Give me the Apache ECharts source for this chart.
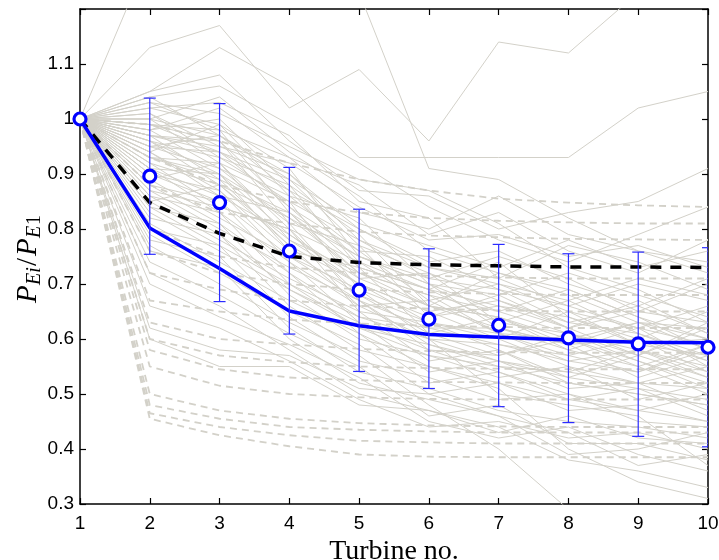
<!DOCTYPE html>
<html>
<head>
<meta charset="utf-8">
<script src="https://cdn.jsdelivr.net/npm/echarts@6/dist/echarts.min.js"></script>
<style>
  html, body { margin: 0; padding: 0; background: #fff; }
  #chart { width: 719px; height: 560px; }
</style>
</head>
<body>
<div id="chart"></div>
<script>
// Turbine positions along the row
const turbines = [1, 2, 3, 4, 5, 6, 7, 8, 9, 10];

// Mean normalised power with +/- one standard deviation
const meanRatio = [1.000, 0.896, 0.848, 0.760, 0.689, 0.636, 0.625, 0.602, 0.591, 0.585];
const errUpper  = [1.000, 1.038, 1.028, 0.912, 0.836, 0.764, 0.772, 0.755, 0.758, 0.766];
const errLower  = [1.000, 0.754, 0.668, 0.609, 0.541, 0.510, 0.477, 0.448, 0.423, 0.404];

// Model curves
const modelSolid  = [1.000, 0.802, 0.728, 0.651, 0.624, 0.608, 0.603, 0.598, 0.594, 0.593];
const modelDashed = [1.000, 0.848, 0.792, 0.750, 0.739, 0.735, 0.733, 0.731, 0.731, 0.730];

// Individual measured cases (thin solid grey)
const caseRuns = [
  [1, 1.30, 1.40, 1.38, 1.23, 0.91, 0.89, 0.82, 0.76, 0.72],
  [1, 1.13, 1.17, 1.02, 1.09, 0.96, 1.14, 1.12, 1.23, 1.25],
  [1, 1.05, 1.13, 1.06, 0.93, 0.93, 0.93, 0.93, 1.02, 1.05],
  [1, 1.05, 1.08, 0.96, 0.87, 0.86, 0.80, 0.83, 0.85, 0.91],
  [1, 1.04, 1.06, 0.99, 0.92, 0.84, 0.78, 0.74, 0.79, 0.84],
  [1, 1.03, 0.98, 0.93, 0.88, 0.79, 0.83, 0.76, 0.72, 0.78],
  [1, 1.02, 1.03, 0.97, 0.85, 0.82, 0.71, 0.77, 0.74, 0.69],
  [1, 1.01, 0.95, 0.90, 0.80, 0.74, 0.76, 0.70, 0.66, 0.71],
  [1, 1.00, 0.92, 0.86, 0.82, 0.70, 0.68, 0.72, 0.68, 0.64],
  [1, 0.99, 0.96, 0.84, 0.76, 0.75, 0.69, 0.66, 0.70, 0.67],
  [1, 0.98, 1.00, 0.88, 0.79, 0.66, 0.72, 0.68, 0.63, 0.62],
  [1, 0.97, 0.94, 0.87, 0.74, 0.69, 0.74, 0.64, 0.60, 0.65],
  [1, 0.96, 0.88, 0.82, 0.72, 0.68, 0.65, 0.69, 0.64, 0.58],
  [1, 0.95, 0.91, 0.81, 0.77, 0.64, 0.66, 0.62, 0.67, 0.61],
  [1, 0.94, 0.86, 0.79, 0.71, 0.72, 0.63, 0.61, 0.57, 0.63],
  [1, 0.93, 0.89, 0.77, 0.70, 0.65, 0.67, 0.63, 0.61, 0.56],
  [1, 0.92, 0.84, 0.80, 0.68, 0.63, 0.60, 0.65, 0.59, 0.60],
  [1, 0.91, 0.90, 0.76, 0.73, 0.61, 0.64, 0.58, 0.62, 0.55],
  [1, 0.90, 0.87, 0.74, 0.66, 0.67, 0.61, 0.60, 0.55, 0.59],
  [1, 0.89, 0.82, 0.75, 0.69, 0.60, 0.59, 0.56, 0.58, 0.53],
  [1, 0.88, 0.85, 0.72, 0.64, 0.62, 0.62, 0.59, 0.53, 0.57],
  [1, 0.87, 0.80, 0.73, 0.67, 0.58, 0.57, 0.61, 0.56, 0.51],
  [1, 0.86, 0.83, 0.70, 0.62, 0.59, 0.55, 0.54, 0.58, 0.54],
  [1, 0.85, 0.78, 0.71, 0.65, 0.56, 0.58, 0.53, 0.51, 0.49],
  [1, 0.84, 0.81, 0.68, 0.60, 0.57, 0.53, 0.55, 0.49, 0.52],
  [1, 0.83, 0.76, 0.69, 0.63, 0.54, 0.56, 0.51, 0.52, 0.47],
  [1, 0.82, 0.79, 0.66, 0.58, 0.55, 0.51, 0.40, 0.34, 0.31],
  [1, 0.81, 0.74, 0.67, 0.61, 0.52, 0.54, 0.49, 0.47, 0.50],
  [1, 0.80, 0.77, 0.64, 0.56, 0.53, 0.49, 0.50, 0.45, 0.44],
  [1, 0.79, 0.72, 0.65, 0.59, 0.50, 0.52, 0.47, 0.48, 0.45],
  [1, 0.78, 0.75, 0.62, 0.54, 0.51, 0.47, 0.45, 0.44, 0.42],
  [1, 0.77, 0.70, 0.63, 0.57, 0.48, 0.40, 0.29, 0.25, 0.22],
  [1, 0.76, 0.73, 0.60, 0.52, 0.49, 0.46, 0.43, 0.37, 0.39],
  [1, 0.74, 0.68, 0.61, 0.55, 0.46, 0.48, 0.41, 0.41, 0.38],
  [1, 0.72, 0.66, 0.58, 0.50, 0.47, 0.44, 0.38, 0.36, 0.33],
  [1, 0.70, 0.64, 0.59, 0.53, 0.45, 0.42, 0.44, 0.39, 0.36],
  [1, 0.66, 0.62, 0.56, 0.49, 0.44, 0.45, 0.42, 0.43, 0.40],
  [1, 0.62, 0.58, 0.57, 0.51, 0.50, 0.46, 0.39, 0.40, 0.43],
  [1, 0.60, 0.55, 0.55, 0.48, 0.47, 0.43, 0.46, 0.42, 0.41],
  [1, 0.98, 1.02, 0.93, 0.83, 0.80, 0.86, 0.79, 0.76, 0.74],
  [1, 1.00, 0.97, 0.89, 0.81, 0.77, 0.73, 0.78, 0.73, 0.76],
  [1, 0.96, 0.93, 0.85, 0.78, 0.73, 0.70, 0.67, 0.71, 0.68],
  [1, 0.94, 0.99, 0.91, 0.75, 0.71, 0.75, 0.71, 0.65, 0.70],
  [1, 0.91, 0.86, 0.83, 0.72, 0.68, 0.61, 0.57, 0.54, 0.59],
  [1, 0.89, 0.92, 0.78, 0.70, 0.63, 0.58, 0.52, 0.50, 0.48],
  [1, 0.87, 0.84, 0.80, 0.74, 0.66, 0.64, 0.60, 0.63, 0.58],
  [1, 0.85, 0.88, 0.77, 0.66, 0.60, 0.50, 0.48, 0.46, 0.37],
  [1, 1.03, 1.01, 0.95, 0.89, 0.87, 0.81, 0.73, 0.69, 0.63],
  [1, 0.97, 0.95, 0.92, 0.84, 0.78, 0.79, 0.75, 0.77, 0.73],
  [1, 0.93, 0.90, 0.82, 0.75, 0.70, 0.62, 0.59, 0.60, 0.54],
  [1, 1.04, 0.97, 0.90, 0.78, 0.71, 0.69, 0.63, 0.66, 0.61],
  [1, 1.02, 0.99, 0.86, 0.76, 0.67, 0.70, 0.65, 0.62, 0.66],
  [1, 1.01, 0.93, 0.88, 0.73, 0.69, 0.63, 0.67, 0.61, 0.57],
  [1, 0.99, 0.98, 0.83, 0.71, 0.66, 0.64, 0.59, 0.63, 0.60],
  [1, 0.98, 0.91, 0.85, 0.69, 0.64, 0.68, 0.62, 0.57, 0.62],
  [1, 0.97, 0.96, 0.81, 0.67, 0.62, 0.59, 0.57, 0.60, 0.56],
  [1, 0.96, 0.90, 0.79, 0.70, 0.65, 0.60, 0.55, 0.52, 0.55],
  [1, 0.95, 0.94, 0.84, 0.73, 0.69, 0.66, 0.64, 0.59, 0.57],
  [1, 0.94, 0.87, 0.76, 0.68, 0.61, 0.57, 0.60, 0.56, 0.52],
  [1, 0.93, 0.92, 0.80, 0.65, 0.63, 0.61, 0.56, 0.54, 0.58],
  [1, 0.92, 0.88, 0.78, 0.72, 0.66, 0.62, 0.58, 0.55, 0.50],
  [1, 0.90, 0.85, 0.75, 0.67, 0.59, 0.56, 0.53, 0.57, 0.53],
  [1, 1.00, 1.04, 0.94, 0.86, 0.76, 0.72, 0.69, 0.64, 0.60],
  [1, 0.99, 0.94, 0.89, 0.77, 0.72, 0.67, 0.62, 0.65, 0.63],
  [1, 0.97, 0.89, 0.83, 0.75, 0.70, 0.65, 0.61, 0.58, 0.55],
  [1, 0.95, 0.97, 0.87, 0.80, 0.73, 0.71, 0.66, 0.62, 0.59],
  [1, 0.91, 0.83, 0.74, 0.63, 0.58, 0.54, 0.50, 0.47, 0.45],
  [1, 0.88, 0.81, 0.72, 0.61, 0.55, 0.52, 0.49, 0.51, 0.46],
  [1, 0.86, 0.79, 0.69, 0.62, 0.57, 0.55, 0.52, 0.50, 0.48],
  [1, 0.84, 0.77, 0.70, 0.64, 0.60, 0.56, 0.54, 0.52, 0.51]
];

// Per-case model predictions (dashed grey)
const caseModels = [
  [1, 0.99, 0.96, 0.92, 0.89, 0.87, 0.855, 0.848, 0.843, 0.84],
  [1, 0.93, 0.88, 0.85, 0.83, 0.82, 0.815, 0.812, 0.81, 0.81],
  [1, 0.88, 0.83, 0.81, 0.795, 0.788, 0.785, 0.782, 0.781, 0.78],
  [1, 0.80, 0.75, 0.73, 0.72, 0.715, 0.712, 0.71, 0.71, 0.71],
  [1, 0.76, 0.72, 0.70, 0.69, 0.685, 0.682, 0.68, 0.68, 0.68],
  [1, 0.72, 0.69, 0.67, 0.66, 0.655, 0.652, 0.65, 0.65, 0.65],
  [1, 0.67, 0.65, 0.635, 0.628, 0.624, 0.622, 0.62, 0.62, 0.62],
  [1, 0.63, 0.60, 0.59, 0.582, 0.578, 0.576, 0.575, 0.575, 0.575],
  [1, 0.60, 0.57, 0.558, 0.55, 0.547, 0.546, 0.545, 0.545, 0.545],
  [1, 0.58, 0.545, 0.53, 0.525, 0.522, 0.521, 0.52, 0.52, 0.52],
  [1, 0.55, 0.515, 0.50, 0.494, 0.491, 0.49, 0.49, 0.49, 0.49],
  [1, 0.50, 0.47, 0.455, 0.447, 0.443, 0.441, 0.44, 0.44, 0.44],
  [1, 0.48, 0.455, 0.44, 0.435, 0.432, 0.43, 0.43, 0.43, 0.43],
  [1, 0.465, 0.44, 0.425, 0.415, 0.412, 0.41, 0.41, 0.41, 0.41],
  [1, 0.455, 0.425, 0.405, 0.39, 0.386, 0.385, 0.385, 0.385, 0.385]
];

const GREY = '#d3d1c9';
const BLUE = '#0000ff';

const pairs = ys => turbines.map((t, i) => [t, ys[i]]);

const series = [];

caseModels.forEach(row => series.push({
  type: 'line', data: pairs(row), symbol: 'none', silent: true,
  lineStyle: { color: GREY, width: 1.8, type: [7, 5] }
}));

caseRuns.forEach(row => series.push({
  type: 'line', data: pairs(row), symbol: 'none', silent: true,
  lineStyle: { color: GREY, width: 1 }
}));

series.push({
  type: 'line', data: pairs(modelDashed), symbol: 'none', clip: false,
  lineStyle: { color: '#000', width: 3.5, type: [11, 9] }
});

series.push({
  type: 'line', data: pairs(modelSolid), symbol: 'none', clip: false,
  lineStyle: { color: BLUE, width: 3.5 }
});

// Error bars: vertical whisker with caps
series.push({
  type: 'custom',
  data: turbines.map((t, i) => [t, errLower[i], errUpper[i]]),
  renderItem: (params, api) => {
    const lo = api.value(1), hi = api.value(2);
    if (hi - lo < 1e-9) return null;
    const top = api.coord([api.value(0), hi]);
    const bot = api.coord([api.value(0), lo]);
    const w = 6;
    const st = { stroke: '#2b2bff', lineWidth: 1.2 };
    return {
      type: 'group',
      children: [
        { type: 'line', shape: { x1: top[0], y1: top[1], x2: bot[0], y2: bot[1] }, style: st },
        { type: 'line', shape: { x1: top[0] - w, y1: top[1], x2: top[0] + w, y2: top[1] }, style: st },
        { type: 'line', shape: { x1: bot[0] - w, y1: bot[1], x2: bot[0] + w, y2: bot[1] }, style: st }
      ]
    };
  },
  clip: true, z: 5
});

series.push({
  type: 'scatter', data: pairs(meanRatio), symbol: 'circle', symbolSize: 12, clip: false, z: 6,
  itemStyle: { color: '#fff', borderColor: BLUE, borderWidth: 3.2, opacity: 1 }
});

const tickFont = { fontFamily: 'Liberation Sans', fontSize: 19, color: '#000' };
const axisLine = { show: true, lineStyle: { color: '#000', width: 1.5 } };
const ticksIn = { show: true, inside: true, length: 6, lineStyle: { color: '#000', width: 1.2 } };

const option = {
  animation: false,
  backgroundColor: '#fff',
  grid: { left: 80, right: 11, top: 9, bottom: 56, containLabel: false, outerBoundsMode: 'none' },
  xAxis: [
    {
      type: 'value', min: 1, max: 10, interval: 1, position: 'bottom',
      axisLine, axisTick: ticksIn, splitLine: { show: false },
      axisLabel: Object.assign({ margin: 10 }, tickFont),
      name: 'Turbine no.', nameLocation: 'middle', nameGap: 37,
      nameTextStyle: { fontFamily: 'Liberation Serif', fontSize: 28, color: '#000', verticalAlign: 'middle' }
    },
    {
      type: 'value', min: 1, max: 10, interval: 1, position: 'top',
      axisLine, axisTick: ticksIn, splitLine: { show: false }, axisLabel: { show: false }
    }
  ],
  yAxis: [
    {
      type: 'value', min: 0.3, max: 1.2, interval: 0.1, position: 'left',
      axisLine, axisTick: ticksIn, splitLine: { show: false },
      axisLabel: Object.assign({
        margin: 6,
        formatter: v => (v > 1.15 ? '' : String(parseFloat(v.toFixed(1))))
      }, tickFont)
    },
    {
      type: 'value', min: 0.3, max: 1.2, interval: 0.1, position: 'right',
      axisLine, axisTick: ticksIn, splitLine: { show: false }, axisLabel: { show: false }
    }
  ],
  graphic: [{
    type: 'group', x: 28, y: 257, rotation: Math.PI / 2,
    children: [
      { type: 'text', x: -46, y: 0, style: { text: 'P', font: 'italic 29px "Liberation Serif"', fill: '#000', align: 'left', verticalAlign: 'middle' } },
      { type: 'text', x: -28, y: 7, style: { text: 'Ei', font: 'italic 20px "Liberation Serif"', fill: '#000', align: 'left', verticalAlign: 'middle' } },
      { type: 'text', x: -9, y: 0, style: { text: '/', font: '29px "Liberation Serif"', fill: '#000', align: 'left', verticalAlign: 'middle' } },
      { type: 'text', x: 1, y: 0, style: { text: 'P', font: 'italic 29px "Liberation Serif"', fill: '#000', align: 'left', verticalAlign: 'middle' } },
      { type: 'text', x: 19, y: 7, style: { text: 'E', font: 'italic 20px "Liberation Serif"', fill: '#000', align: 'left', verticalAlign: 'middle' } },
      { type: 'text', x: 32, y: 7, style: { text: '1', font: '20px "Liberation Serif"', fill: '#000', align: 'left', verticalAlign: 'middle' } }
    ]
  }],
  series
};

const chart = echarts.init(document.getElementById('chart'), null, { renderer: 'canvas' });
chart.setOption(option);
</script>
</body>
</html>
